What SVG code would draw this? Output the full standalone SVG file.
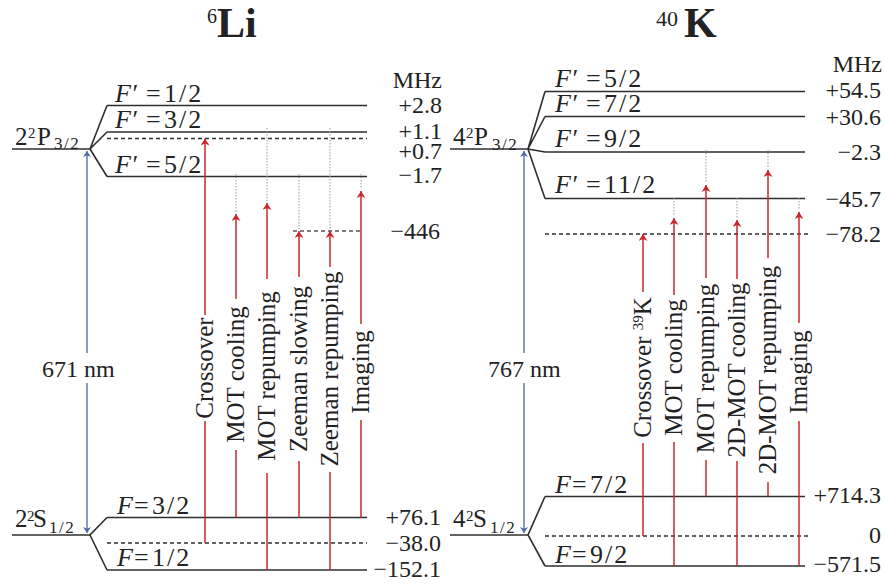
<svg xmlns="http://www.w3.org/2000/svg" width="885" height="585" viewBox="0 0 885 585" font-family="'Liberation Serif','Times New Roman',serif">
<defs>
<style>
text{font-family:"Liberation Serif","Times New Roman",serif;fill:#222;}
.lv{stroke:#2e2e2e;stroke-width:1.6;fill:none}
.ds{stroke:#2e2e2e;stroke-width:1.4;stroke-dasharray:4 3;fill:none}
.dg{stroke:#555;stroke-width:1.4;stroke-dasharray:4 3;fill:none}
.dt{stroke:#9a9a9a;stroke-width:1;stroke-dasharray:1.5 1.5;fill:none}
.rd{stroke:#c8282d;stroke-width:1.5;fill:none}
.ra{stroke:#c8282d;stroke-width:1.5;fill:none;marker-end:url(#ar)}
.bl{stroke:#4a66aa;stroke-width:1.3;fill:none;marker-end:url(#ab)}
.val{font-size:24px;text-anchor:end}
.fl{font-size:26px}
.fr{letter-spacing:2px}
.lab{font-size:25px;text-anchor:middle}
.it{font-style:italic}
.sb{font-size:17px;letter-spacing:1.5px}
.sp{font-size:15px}
</style>
<marker id="ar" markerUnits="userSpaceOnUse" markerWidth="7" markerHeight="9" viewBox="0 0 10 10" refX="10" refY="5" orient="auto" preserveAspectRatio="none"><path d="M0,0 L10,5 L0,10 L3,5 z" fill="#c8282d"/></marker>
<marker id="ab" markerUnits="userSpaceOnUse" markerWidth="6" markerHeight="8" viewBox="0 0 10 10" refX="10" refY="5" orient="auto" preserveAspectRatio="none"><path d="M0,0 L10,5 L0,10 L3,5 z" fill="#4a66aa"/></marker>
</defs>
<rect width="885" height="585" fill="#fff"/>

<!-- ===== 6Li ===== -->
<g id="li-title"><text><tspan x="207" y="23" font-size="20">6</tspan><tspan x="217" y="37" font-size="42" font-weight="bold">Li</tspan></text></g>
<text class="val" x="442" y="88">MHz</text>

<g id="li-2P32">
<line class="lv" x1="12" y1="149" x2="90" y2="149"/>
<text font-size="25"><tspan x="15" y="145">2</tspan><tspan class="sp" x="28" y="138">2</tspan><tspan x="37" y="145">P</tspan><tspan class="sb" x="54" y="149">3/2</tspan></text>
</g>
<g id="li-Fp12"><line class="lv" x1="107" y1="105.5" x2="367" y2="105.5"/><text class="fl" x="115" y="102"><tspan class="it">F′</tspan><tspan x="146">=</tspan><tspan class="fr" x="164">1/2</tspan></text><text class="val" x="442" y="113">+2.8</text></g>
<g id="li-Fp32"><line class="lv" x1="107" y1="132" x2="367" y2="132"/><text class="fl" x="115" y="128"><tspan class="it">F′</tspan><tspan x="146">=</tspan><tspan class="fr" x="164">3/2</tspan></text><text class="val" x="442" y="139">+1.1</text></g>
<g id="li-cross-up"><line class="ds" x1="107" y1="138.5" x2="367" y2="138.5"/><text class="val" x="442" y="159">+0.7</text></g>
<g id="li-Fp52"><line class="lv" x1="107" y1="176.5" x2="367" y2="176.5"/><text class="fl" x="115" y="173"><tspan class="it">F′</tspan><tspan x="146">=</tspan><tspan class="fr" x="164">5/2</tspan></text><text class="val" x="442" y="183">−1.7</text></g>
<g id="li-446"><line class="dg" x1="293" y1="231" x2="363" y2="231"/><text class="val" x="440" y="239">−446</text></g>

<g id="li-2S12">
<line class="lv" x1="12" y1="535" x2="90" y2="535"/>
<text font-size="25"><tspan x="15" y="527">2</tspan><tspan class="sp" x="27" y="521">2</tspan><tspan x="33" y="527">S</tspan><tspan class="sb" x="49" y="533" letter-spacing="2.5">1/2</tspan></text>
</g>
<g id="li-F32"><line class="lv" x1="107" y1="517.5" x2="367" y2="517.5"/><text class="fl" x="117" y="514"><tspan class="it">F</tspan><tspan x="134">=</tspan><tspan class="fr" x="152">3/2</tspan></text><text class="val" x="441" y="525">+76.1</text></g>
<g id="li-cross-down"><line class="ds" x1="107" y1="543" x2="367" y2="543"/><text class="val" x="441" y="551">−38.0</text></g>
<g id="li-F12"><line class="lv" x1="107" y1="570" x2="367" y2="570"/><text class="fl" x="117" y="566"><tspan class="it">F</tspan><tspan x="134">=</tspan><tspan class="fr" x="152">1/2</tspan></text><text class="val" x="441" y="577">−152.1</text></g>

<g id="li-labels">
<text class="lab" transform="translate(212.5,368) rotate(-90)">Crossover</text>
<text class="lab" transform="translate(243.5,374.5) rotate(-90)">MOT cooling</text>
<text class="lab" transform="translate(274.5,376) rotate(-90)">MOT repumping</text>
<text class="lab" transform="translate(306.5,369) rotate(-90)">Zeeman slowing</text>
<text class="lab" transform="translate(337.5,369) rotate(-90)">Zeeman repumping</text>
<text class="lab" transform="translate(368.5,372) rotate(-90)">Imaging</text>
<text font-size="24" x="42" y="377">671 nm</text>
</g>

<!-- ===== 40K ===== -->
<g id="k-title"><text><tspan x="656" y="26" font-size="22">40</tspan><tspan x="684" y="37" font-size="42" font-weight="bold">K</tspan></text></g>
<text class="val" x="882" y="72">MHz</text>

<g id="k-4P32">
<line class="lv" x1="450" y1="149" x2="528" y2="149"/>
<text font-size="25"><tspan x="453" y="145">4</tspan><tspan class="sp" x="466" y="138">2</tspan><tspan x="474" y="145">P</tspan><tspan class="sb" x="492" y="150">3/2</tspan></text>
</g>
<g id="k-Fp52"><line class="lv" x1="545" y1="91.5" x2="805" y2="91.5"/><text class="fl" x="555" y="87"><tspan class="it">F′</tspan><tspan x="586">=</tspan><tspan class="fr" x="604">5/2</tspan></text><text class="val" x="881" y="98">+54.5</text></g>
<g id="k-Fp72"><line class="lv" x1="545" y1="116.5" x2="805" y2="116.5"/><text class="fl" x="555" y="112"><tspan class="it">F′</tspan><tspan x="586">=</tspan><tspan class="fr" x="604">7/2</tspan></text><text class="val" x="881" y="125">+30.6</text></g>
<g id="k-Fp92"><line class="lv" x1="545" y1="152" x2="805" y2="152"/><text class="fl" x="555" y="147"><tspan class="it">F′</tspan><tspan x="586">=</tspan><tspan class="fr" x="604">9/2</tspan></text><text class="val" x="881" y="160">−2.3</text></g>
<g id="k-Fp112"><line class="lv" x1="545" y1="198.5" x2="805" y2="198.5"/><text class="fl" x="555" y="193"><tspan class="it">F′</tspan><tspan x="586">=</tspan><tspan class="fr" x="604">11/2</tspan></text><text class="val" x="881" y="207">−45.7</text></g>
<g id="k-cross-up"><line class="ds" x1="545" y1="234" x2="808" y2="234"/><text class="val" x="881" y="242">−78.2</text></g>

<g id="k-4S12">
<line class="lv" x1="450" y1="535" x2="528" y2="535"/>
<text font-size="25"><tspan x="453" y="527">4</tspan><tspan class="sp" x="466" y="521">2</tspan><tspan x="473" y="527">S</tspan><tspan class="sb" x="490" y="533" letter-spacing="2.5">1/2</tspan></text>
</g>
<g id="k-F72"><line class="lv" x1="545" y1="496.5" x2="805" y2="496.5"/><text class="fl" x="555" y="493"><tspan class="it">F</tspan><tspan x="572">=</tspan><tspan class="fr" x="590">7/2</tspan></text><text class="val" x="881" y="503">+714.3</text></g>
<g id="k-zero"><line class="ds" x1="545" y1="536" x2="810" y2="536"/><text class="val" x="881" y="543">0</text></g>
<g id="k-F92"><line class="lv" x1="545" y1="566" x2="805" y2="566"/><text class="fl" x="555" y="563"><tspan class="it">F</tspan><tspan x="572">=</tspan><tspan class="fr" x="590">9/2</tspan></text><text class="val" x="881" y="572">−571.5</text></g>

<g id="k-labels">
<text class="lab" transform="translate(650.5,367.5) rotate(-90)">Crossover <tspan font-size="15" baseline-shift="super">39</tspan>K</text>
<text class="lab" transform="translate(681.5,367.5) rotate(-90)">MOT cooling</text>
<text class="lab" transform="translate(713.5,368.5) rotate(-90)">MOT repumping</text>
<text class="lab" transform="translate(744.5,370) rotate(-90)">2D-MOT cooling</text>
<text class="lab" transform="translate(775.5,370) rotate(-90)">2D-MOT repumping</text>
<text class="lab" transform="translate(806.5,372) rotate(-90)">Imaging</text>
<text font-size="24" x="488" y="377">767 nm</text>
</g>

<!-- ===== connectors ===== -->
<g id="connectors">
<polyline class="lv" points="107,105.5 90,149 107,132"/>
<polyline class="lv" points="90,149 107,176.5"/>
<polyline class="lv" points="107,517.5 90,535 107,570"/>
<polyline class="lv" points="545,91.5 528,149 545,116.5"/>
<polyline class="lv" points="528,149 545,152"/>
<polyline class="lv" points="528,149 545,198.5"/>
<polyline class="lv" points="545,496.5 528,535 545,566"/>

<line class="bl" x1="87" y1="353" x2="87" y2="151"/>
<line class="bl" x1="87" y1="383" x2="87" y2="533"/>
<line class="bl" x1="524" y1="353" x2="524" y2="151"/>
<line class="bl" x1="524" y1="383" x2="524" y2="533"/>

<line class="dt" x1="236" y1="174" x2="236" y2="212"/>
<line class="dt" x1="267" y1="128" x2="267" y2="201"/>
<line class="dt" x1="299" y1="174" x2="299" y2="229"/>
<line class="dt" x1="330" y1="128" x2="330" y2="229"/>
<line class="dt" x1="361" y1="174" x2="361" y2="189"/>

<line class="rd" x1="205" y1="543" x2="205" y2="421"/><line class="ra" x1="205" y1="315" x2="205" y2="138.5"/>
<line class="rd" x1="236" y1="517.5" x2="236" y2="450"/><line class="ra" x1="236" y1="299" x2="236" y2="214"/>
<line class="rd" x1="267" y1="570" x2="267" y2="473"/><line class="ra" x1="267" y1="279" x2="267" y2="203"/>
<line class="rd" x1="299" y1="517.5" x2="299" y2="461"/><line class="ra" x1="299" y1="277" x2="299" y2="231"/>
<line class="rd" x1="330" y1="570" x2="330" y2="472"/><line class="ra" x1="330" y1="267" x2="330" y2="231"/>
<line class="rd" x1="361" y1="517.5" x2="361" y2="420"/><line class="ra" x1="361" y1="324" x2="361" y2="191"/>

<line class="dt" x1="674" y1="198" x2="674" y2="216"/>
<line class="dt" x1="706" y1="150" x2="706" y2="183"/>
<line class="dt" x1="737" y1="198" x2="737" y2="218"/>
<line class="dt" x1="768" y1="150" x2="768" y2="168"/>
<line class="dt" x1="799" y1="198" x2="799" y2="210"/>

<line class="rd" x1="643" y1="536" x2="643" y2="443"/><line class="ra" x1="643" y1="292" x2="643" y2="234"/>
<line class="rd" x1="674" y1="566" x2="674" y2="442"/><line class="ra" x1="674" y1="295" x2="674" y2="218"/>
<line class="rd" x1="706" y1="496.5" x2="706" y2="460"/><line class="ra" x1="706" y1="278" x2="706" y2="185"/>
<line class="rd" x1="737" y1="566" x2="737" y2="461"/><line class="ra" x1="737" y1="279" x2="737" y2="220"/>
<line class="rd" x1="768" y1="496.5" x2="768" y2="482"/><line class="ra" x1="768" y1="258" x2="768" y2="170"/>
<line class="rd" x1="799" y1="566" x2="799" y2="421"/><line class="ra" x1="799" y1="323" x2="799" y2="212"/>
</g>
</svg>
